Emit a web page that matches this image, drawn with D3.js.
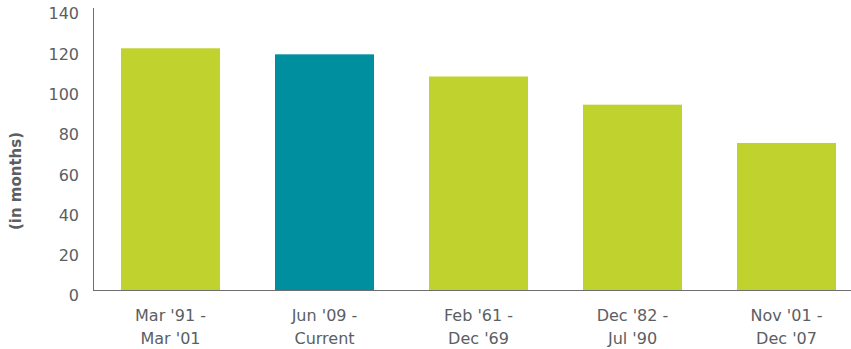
<!DOCTYPE html>
<html><head><meta charset="utf-8">
<script src="https://cdn.jsdelivr.net/npm/d3@7"></script>
<style>body{margin:0;background:#fff}svg{display:block}</style>
</head><body>
<script>
const categories = [["Mar '91 -","Mar '01"],["Jun '09 -","Current"],["Feb '61 -","Dec '69"],["Dec '82 -","Jul '90"],["Nov '01 -","Dec '07"]];
const values = [120, 117, 106, 92, 73];
const highlight = [false, true, false, false, false];
const yTicks = [0,20,40,60,80,100,120,140];
const yTitle = "(in months)";

const W=851,H=349;
const font="'DejaVu Sans', sans-serif";
const textCol="#5b5e63";
const svg=d3.select("body").append("svg").attr("width",W).attr("height",H);
const x=d3.scaleBand().domain(d3.range(values.length)).range([93.5,863.5]).paddingInner(0.357).paddingOuter(0.1786);
const y=d3.scaleLinear().domain([0,140]).range([290,8]);

svg.selectAll("rect.bar").data(values).join("rect").attr("class","bar")
 .attr("x",(d,i)=>x(i)).attr("width",x.bandwidth())
 .attr("y",d=>y(d)).attr("height",d=>y(0)-y(d))
 .attr("fill",(d,i)=>highlight[i]?"#008f9f":"#c0d22d");

// y axis
const ya=svg.append("g").attr("transform","translate(93,0)").call(d3.axisLeft(y).tickValues(yTicks).tickSize(0).tickPadding(14));
ya.select(".domain").attr("stroke","#6d6e71").attr("d",`M0.5,${y(140)}V${y(0)}`);
ya.selectAll("text").attr("font-family",font).attr("font-size",16).attr("fill",textCol).attr("dy","0.68em");

// x axis line
svg.append("line").attr("x1",93).attr("x2",W).attr("y1",y(0)+0.5).attr("y2",y(0)+0.5).attr("stroke","#6d6e71");

// x labels
const xl=svg.selectAll("text.xl").data(categories).join("text").attr("class","xl")
 .attr("x",(d,i)=>x(i)+x.bandwidth()/2).attr("y",321)
 .attr("text-anchor","middle").attr("font-family",font).attr("font-size",16).attr("fill",textCol);
xl.selectAll("tspan").data(d=>d).join("tspan").attr("x",function(){return this.parentNode.getAttribute("x");})
 .attr("dy",(d,i)=>i?23:0).text(d=>d);

svg.append("text").attr("transform","translate(21,181) rotate(-90)").attr("text-anchor","middle")
 .attr("font-family",font).attr("font-weight",700).attr("font-size",15).attr("fill",textCol).text(yTitle);
</script>
</body></html>
